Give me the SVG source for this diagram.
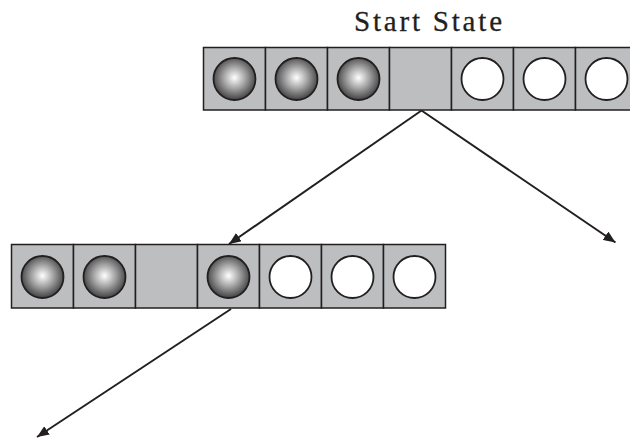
<svg xmlns="http://www.w3.org/2000/svg" width="630" height="439" viewBox="0 0 630 439">
<style>
.cell{fill:#bcbec0;stroke:#231f20;stroke-width:1.5}
.dark{fill:url(#ball);stroke:#231f20;stroke-width:1.8}
.light{fill:#ffffff;stroke:#231f20;stroke-width:1.8}
.edge{fill:none;stroke:#231f20;stroke-width:2;marker-end:url(#ah)}
.title{font-family:"Liberation Serif",serif;font-size:29px;fill:#231f20;stroke:#231f20;stroke-width:0.3}
</style>
<defs>
<radialGradient id="ball" cx="0.5" cy="0.47" r="0.55">
<stop offset="0" stop-color="#ffffff"/>
<stop offset="0.45" stop-color="#a8a8a8"/>
<stop offset="1" stop-color="#3a3a3a"/>
</radialGradient>
<marker id="ah" viewBox="0 0 12 10" refX="12" refY="5" markerWidth="12" markerHeight="10" markerUnits="userSpaceOnUse" orient="auto">
<path d="M0,0 L12,5 L0,10 z" fill="#231f20"/>
</marker>
</defs>
<g id="start-label"><text class="title" x="428" y="31" text-anchor="middle" textLength="148" lengthAdjust="spacing">Start State</text></g>
<g id="start-state">
<rect class="cell" x="203.5" y="47.5" width="62" height="62.5"/>
<rect class="cell" x="265.5" y="47.5" width="62" height="62.5"/>
<rect class="cell" x="327.5" y="47.5" width="62" height="62.5"/>
<rect class="cell" x="389.5" y="47.5" width="62" height="62.5"/>
<rect class="cell" x="451.5" y="47.5" width="62" height="62.5"/>
<rect class="cell" x="513.5" y="47.5" width="62" height="62.5"/>
<rect class="cell" x="575.5" y="47.5" width="62" height="62.5"/>
<circle class="dark" cx="234.5" cy="79" r="21"/>
<circle class="dark" cx="296.5" cy="79" r="21"/>
<circle class="dark" cx="358.5" cy="79" r="21"/>
<circle class="light" cx="482.5" cy="79" r="21"/>
<circle class="light" cx="544.5" cy="79" r="21"/>
<circle class="light" cx="606.5" cy="79" r="21"/>
</g>
<g id="state-2">
<rect class="cell" x="11.5" y="244.5" width="62" height="63.5"/>
<rect class="cell" x="73.5" y="244.5" width="62" height="63.5"/>
<rect class="cell" x="135.5" y="244.5" width="62" height="63.5"/>
<rect class="cell" x="197.5" y="244.5" width="62" height="63.5"/>
<rect class="cell" x="259.5" y="244.5" width="62" height="63.5"/>
<rect class="cell" x="321.5" y="244.5" width="62" height="63.5"/>
<rect class="cell" x="383.5" y="244.5" width="62" height="63.5"/>
<circle class="dark" cx="42.5" cy="277" r="21"/>
<circle class="dark" cx="104.5" cy="277" r="21"/>
<circle class="dark" cx="228.5" cy="277" r="21"/>
<circle class="light" cx="290.5" cy="277" r="21"/>
<circle class="light" cx="352.5" cy="277" r="21"/>
<circle class="light" cx="414.5" cy="277" r="21"/>
</g>
<g id="connectors">
<line class="edge" x1="421.5" y1="110.5" x2="229" y2="244"/>
<line class="edge" x1="421.5" y1="110.5" x2="615.5" y2="242.5"/>
<line class="edge" x1="231" y1="309" x2="37" y2="437"/>
</g>
</svg>
